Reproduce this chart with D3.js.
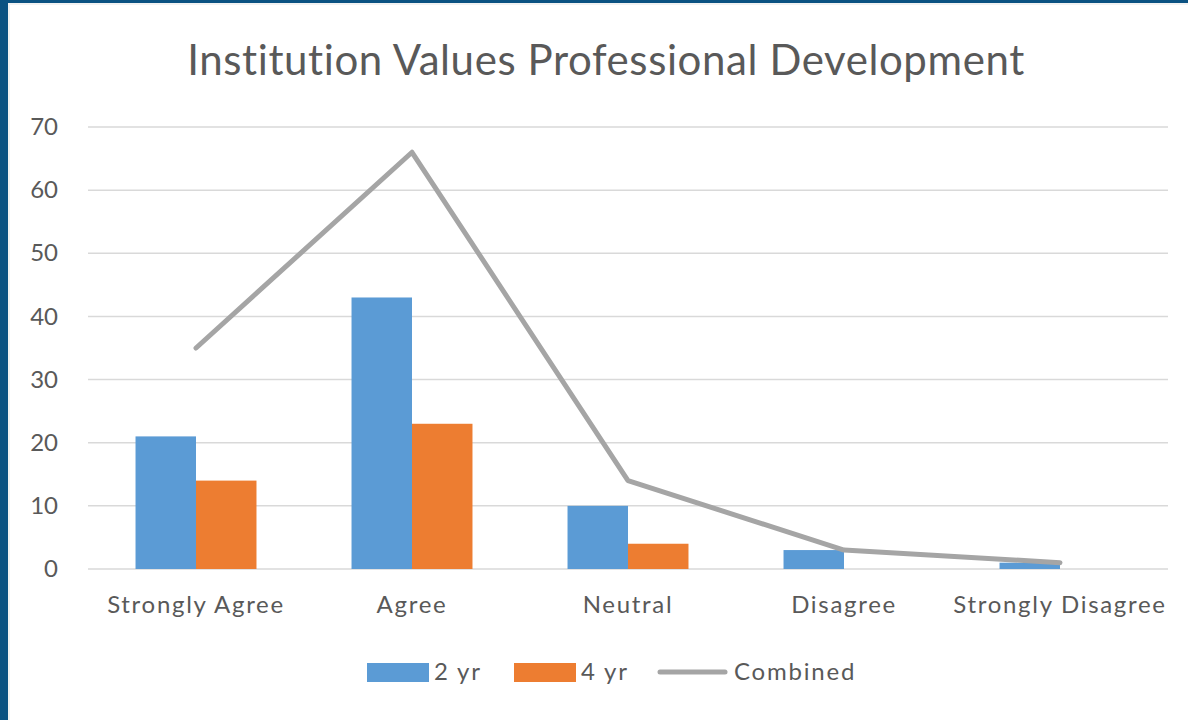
<!DOCTYPE html>
<html>
<head>
<meta charset="utf-8">
<script src="https://cdn.jsdelivr.net/npm/d3@7"></script>
<style>
  html, body { margin: 0; padding: 0; background: #fff; }
  svg { display: block; }
  text { font-family: "Lato", "Open Sans", sans-serif; fill: #595959; }
</style>
</head>
<body>
<div id="chart"></div>
<script>
//// DATA

const CATEGORIES = ["Strongly Agree", "Agree", "Neutral", "Disagree", "Strongly Disagree"];
const TWO_YR = [21, 43, 10, 3, 1];
const FOUR_YR = [14, 23, 4, 0, 0];
const COMBINED = [35, 66, 14, 3, 1];
const Y_TICKS = [0, 10, 20, 30, 40, 50, 60, 70];
const TITLE = "Institution Values Professional Development";

//// LAYOUT

const W = 1188, H = 720;
const margin = { left: 88, right: 20, top: 127, bottom: 151 };

const svg = d3.select("#chart").append("svg")
  .attr("width", W).attr("height", H);

// frame
svg.append("rect").attr("x", 0).attr("y", 0).attr("width", W).attr("height", H).attr("fill", "#0b5282");
svg.append("rect").attr("x", 8).attr("y", 3).attr("width", W - 8).attr("height", H - 3).attr("fill", "#f2f2f2");
svg.append("rect").attr("x", 10).attr("y", 5).attr("width", W - 10).attr("height", H - 5).attr("fill", "#ffffff");

const x = d3.scaleBand()
  .domain(CATEGORIES)
  .range([margin.left, W - margin.right])
  .paddingInner(0.44)
  .paddingOuter(0.22);

const sub = d3.scaleBand()
  .domain(["2 yr", "4 yr"])
  .range([0, x.bandwidth()]);

const y = d3.scaleLinear()
  .domain([0, 70])
  .range([H - margin.bottom, margin.top]);

// gridlines
svg.append("g")
  .selectAll("line")
  .data(Y_TICKS)
  .join("line")
  .attr("x1", margin.left).attr("x2", W - margin.right)
  .attr("y1", d => y(d)).attr("y2", d => y(d))
  .attr("stroke", "#d9d9d9").attr("stroke-width", 1.5);

// y axis labels
const yAxis = svg.append("g")
  .attr("transform", "translate(58,0)")
  .call(d3.axisLeft(y).tickValues(Y_TICKS).tickSize(0).tickPadding(0));
yAxis.select(".domain").remove();
yAxis.selectAll("text").attr("font-size", 24).attr("fill", "#595959");

// x axis labels
const xAxis = svg.append("g")
  .attr("transform", `translate(0,${y(0) + 44})`)
  .call(d3.axisBottom(x.copy().paddingInner(0).paddingOuter(0)).tickSize(0).tickPadding(0));
xAxis.select(".domain").remove();
xAxis.selectAll("text")
  .attr("font-size", 24)
  .attr("letter-spacing", 1.7)
  .attr("fill", "#595959")
  .attr("dy", 0);

// bars
const series = [
  { key: "2 yr", values: TWO_YR, color: "#5b9bd5" },
  { key: "4 yr", values: FOUR_YR, color: "#ed7d31" }
];

series.forEach(s => {
  svg.append("g")
    .selectAll("rect")
    .data(CATEGORIES.map((c, i) => ({ c, v: s.values[i] })))
    .join("rect")
    .attr("x", d => x(d.c) + sub(s.key))
    .attr("width", sub.bandwidth())
    .attr("y", d => y(d.v))
    .attr("height", d => y(0) - y(d.v))
    .attr("fill", s.color);
});

// combined line
const line = d3.line()
  .x((d, i) => x(CATEGORIES[i]) + x.bandwidth() / 2)
  .y(d => y(d));

svg.append("path")
  .datum(COMBINED)
  .attr("d", line)
  .attr("fill", "none")
  .attr("stroke", "#a5a5a5")
  .attr("stroke-width", 5)
  .attr("stroke-linejoin", "round")
  .attr("stroke-linecap", "round");

// title
svg.append("text")
  .attr("x", 606).attr("y", 75)
  .attr("text-anchor", "middle")
  .attr("font-size", 42)
  .attr("letter-spacing", 0.6)
  .text(TITLE);

// legend
const legend = svg.append("g").attr("transform", "translate(0,672)");
const legendItems = [
  { label: "2 yr", type: "rect", color: "#5b9bd5", x: 367 },
  { label: "4 yr", type: "rect", color: "#ed7d31", x: 514 },
  { label: "Combined", type: "line", color: "#a5a5a5", x: 660 }
];
legendItems.forEach(it => {
  if (it.type === "rect") {
    legend.append("rect").attr("x", it.x).attr("y", -9).attr("width", 62).attr("height", 19).attr("fill", it.color);
  } else {
    legend.append("line").attr("x1", it.x).attr("x2", it.x + 65).attr("y1", 0).attr("y2", 0)
      .attr("stroke", it.color).attr("stroke-width", 5).attr("stroke-linecap", "round");
  }
  legend.append("text")
    .attr("x", it.x + (it.type === "rect" ? 67 : 74))
    .attr("y", 0).attr("dy", "0.35em")
    .attr("font-size", 24)
    .attr("letter-spacing", 1.8)
    .text(it.label);
});
</script>
</body>
</html>
